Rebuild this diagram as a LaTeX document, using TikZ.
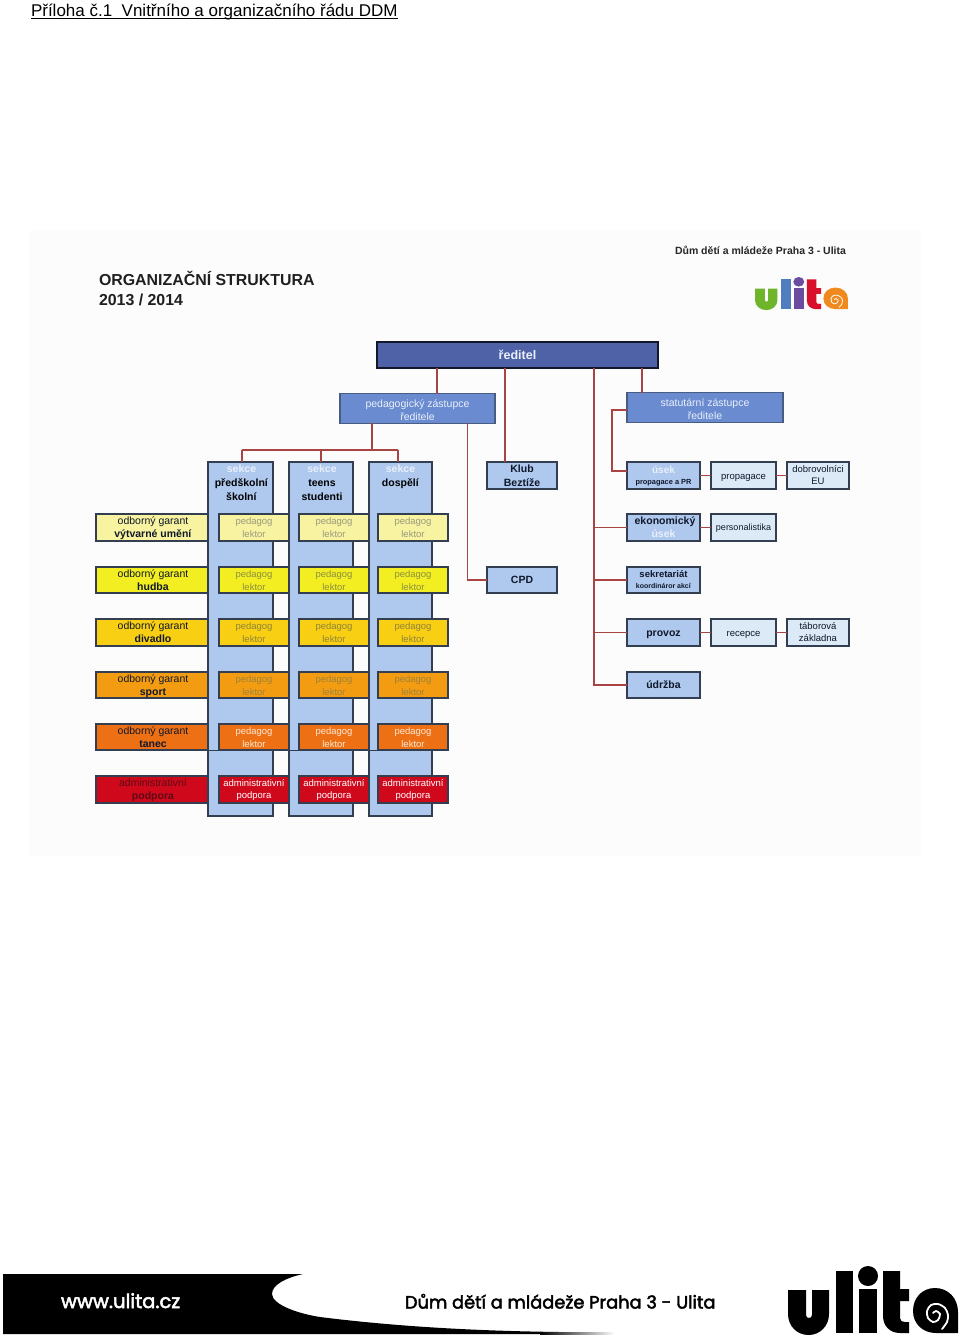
\documentclass[tikz,border=0pt]{standalone}
\usepackage{fontspec}
\setmainfont{Liberation Sans}
\newfontfamily\gothicfont[FakeBold=2.5]{Poppins}
\definecolor{bordr}{HTML}{333F50}
\definecolor{conn}{HTML}{A84444}
\definecolor{colfill}{HTML}{AEC8EE}
\definecolor{midfill}{HTML}{6A8BD0}
\definecolor{dirfill}{HTML}{4F62A8}
\definecolor{lightfill}{HTML}{DCEAF8}
\definecolor{softwhite}{HTML}{E9F0FA}
\definecolor{inkdark}{HTML}{10182A}
\definecolor{ra}{HTML}{F7F3A0}
\definecolor{rb}{HTML}{F2EE22}
\definecolor{rc}{HTML}{F9CF14}
\definecolor{rd}{HTML}{F39C12}
\definecolor{re}{HTML}{EE7014}
\definecolor{rf}{HTML}{D0081C}
\definecolor{ta}{HTML}{9A9A80}
\definecolor{tb}{HTML}{8E9040}
\definecolor{tc}{HTML}{8E8438}
\definecolor{td}{HTML}{A08238}
\definecolor{te}{HTML}{FBE8D6}
\definecolor{garf}{HTML}{5C0A14}
\definecolor{logoa}{HTML}{6FB52C}
\definecolor{logob}{HTML}{4F7DBE}
\definecolor{logoc}{HTML}{6A4CA0}
\definecolor{logod}{HTML}{D8102C}
\definecolor{logoe}{HTML}{F08A1E}
\tikzset{
  orgbox/.style={draw=bordr,line width=1.1pt,inner sep=0pt,outer sep=0pt,align=center,text=inkdark},
  basefont/.style={font=\fontsize{9.5}{13}\selectfont},
  boldfont/.style={font=\fontsize{10.5}{13}\selectfont},
  conline/.style={draw=conn,line width=1.1pt},
  plain/.style={inner sep=0pt,outer sep=0pt,align=center},
}
\renewcommand{\strut}{\rule[-.215\baselineskip]{0pt}{\baselineskip}}
\newcommand{\orgnode}[7]{%
  \node[orgbox,#6,minimum width={(#4-#2)*1pt},minimum height={(#5-#3)*1pt}] (#1) at ({(#2+#4)/2},{(#3+#5)/2}) {#7};}
\newcommand{\hb}[1]{\strut\textbf{#1}}
\newcommand{\ulitalogo}[7]{%
  \begin{scope}[#6]
    \fill[#1] (788,1290) -- (806,1290) -- (806,1315) .. controls (806,1319) and (812,1319) .. (812,1315) -- (812,1290) -- (829,1290) -- (829,1314) .. controls (829,1326) and (820,1335) .. (808.5,1335) .. controls (797,1335) and (788,1326) .. (788,1314) -- cycle;
    \fill[#2] (836,1271) rectangle (853,1333);
    \fill[#3] (859,1289) rectangle (877,1333);
    \fill[#3] (868,1276) circle[radius=10];
    \fill[#4] (883,1271) -- (900,1271) -- (900,1289) -- (909,1289) -- (909,1301) -- (900,1301) -- (900,1318) .. controls (900,1321) and (902,1322) .. (905,1322) -- (909,1322) -- (909,1333) -- (900,1333) .. controls (890,1333) and (883,1326) .. (883,1316) -- cycle;
    \fill[#5] (958,1333) -- (958,1312) .. controls (958,1298) and (948,1288) .. (935,1288) .. controls (922,1288) and (913,1298) .. (913,1311) .. controls (913,1324) and (923,1333) .. (936,1333) -- cycle;
    \draw[white,line width=#7,line cap=round] plot[smooth] coordinates {(942,1329) (947,1322) (948,1315) (945,1308) (938,1304) (931,1305) (927,1311) (928,1318) (933,1322) (938,1320) (940,1314) (936,1311) (933,1313)};
  \end{scope}}
\begin{document}
\begin{tikzpicture}[x=1pt,y=-1pt]
\useasboundingbox (0,0) rectangle (960,1336);
\fill[white] (0,0) rectangle (960,1336);
\fill[black!1] (30,230) rectangle (921,856);

% header
\node[plain,anchor=base west,font=\fontsize{17}{20}\selectfont] (head) at (31,16) {Příloha č.1\ \ Vnitřního a organizačního řádu DDM};
\draw[line width=1pt] ([yshift=-2.2pt]head.base west) -- ([yshift=-2.2pt]head.base east);

% titles
\node[plain,anchor=base west,font=\fontsize{15.9}{20}\selectfont\bfseries,text=black!88] (title) at (99,285.5) {ORGANIZAČNÍ STRUKTURA};
\node[plain,anchor=base west,font=\fontsize{15.9}{20}\selectfont\bfseries,text=black!88] (years) at (99,305.5) {2013 / 2014};
\node[plain,anchor=base west,font=\fontsize{10.5}{13}\selectfont\bfseries,text=black!85] (org) at (675,254) {Dům dětí a mládeže Praha 3 - Ulita};
\ulitalogo{logoa}{logob}{logoc}{logod}{logoe}{shift={(755,277)},xscale=.547,yscale=.48,shift={(-788,-1266)}}{.8pt}

% section columns
\orgnode{sec1}{208}{462}{273}{816}{fill=colfill}{}
\orgnode{sec2}{289}{462}{353}{816}{fill=colfill}{}
\orgnode{sec3}{369}{462}{432}{816}{fill=colfill}{}
\node[plain,anchor=north,boldfont] (sect1) at (241.5,462.5) {\textcolor{softwhite}{\hb{sekce}}\\[1pt]\hb{předškolní}\\[.5pt]\hb{školní}};
\node[plain,anchor=north,boldfont] (sect2) at (322,462.5) {\textcolor{softwhite}{\hb{sekce}}\\[1pt]\hb{teens}\\[.5pt]\hb{studenti}};
\node[plain,anchor=north,boldfont] (sect3) at (400.5,462.5) {\textcolor{softwhite}{\hb{sekce}}\\[1pt]\hb{dospělí}};

% rows
\foreach \r/\ya/\yb/\fc/\tcl/\word in {1/514/541/ra/ta/výtvarné umění,2/567/593/rb/tb/hudba,3/619/646/rc/tc/divadlo,4/672/698/rd/td/sport,5/724/750/re/te/tanec}{
  \orgnode{g\r}{96}{\ya}{208}{\yb}{fill=\fc,boldfont}{\hspace*{2pt}\strut odborný garant\\\hspace*{2pt}\hb{\word}}
  \orgnode{pa\r}{219}{\ya}{289}{\yb}{fill=\fc,basefont,text=\tcl}{\strut pedagog\\\strut lektor}
  \orgnode{pb\r}{299}{\ya}{369}{\yb}{fill=\fc,basefont,text=\tcl}{\strut pedagog\\\strut lektor}
  \orgnode{pc\r}{378}{\ya}{448}{\yb}{fill=\fc,basefont,text=\tcl}{\strut pedagog\\\strut lektor}
}
\orgnode{g6}{96}{776}{208}{803}{fill=rf,boldfont,text=garf}{\hspace*{2pt}\strut administrativní\\\hspace*{2pt}\hb{podpora}}
\orgnode{pa6}{219}{776}{289}{803}{fill=rf,font=\fontsize{9.5}{12}\selectfont,text=white}{\strut administrativní\\\strut podpora}
\orgnode{pb6}{299}{776}{369}{803}{fill=rf,font=\fontsize{9.5}{12}\selectfont,text=white}{\strut administrativní\\\strut podpora}
\orgnode{pc6}{378}{776}{448}{803}{fill=rf,font=\fontsize{9.5}{12}\selectfont,text=white}{\strut administrativní\\\strut podpora}
\draw[bordr,line width=.8pt] (g5.south east) -- (pa5.south west) (pa5.south east) -- (pb5.south west) (pb5.south east) -- (pc5.south west);

% top boxes
\orgnode{dir}{377}{342}{658}{368}{fill=dirfill,draw=inkdark,line width=2pt,font=\fontsize{12.5}{14}\selectfont\bfseries,text=softwhite}{ředitel}
\orgnode{ped}{340}{394}{495}{423}{fill=midfill,draw=bordr!60!midfill,font=\fontsize{10.5}{13}\selectfont,text=softwhite}{\rule{0pt}{14pt}pedagogický zástupce\\\strut ředitele}
\orgnode{stat}{627}{393}{783}{422}{fill=midfill,draw=bordr!60!midfill,font=\fontsize{10.5}{13}\selectfont,text=softwhite}{\rule{0pt}{14pt}statutární zástupce\\\strut ředitele}
\orgnode{klub}{487}{462}{557}{489}{fill=colfill,boldfont}{\hb{Klub}\\[1pt]\hb{Beztíže}}
\orgnode{cpd}{487}{567}{557}{593}{fill=colfill,boldfont}{\hb{CPD}}

% right side
\orgnode{us}{627}{462}{700}{489}{fill=colfill,font=\fontsize{10}{11.5}\selectfont}{\textcolor{softwhite}{\hb{úsek}}\\\fontsize{7.4}{11.5}\selectfont\hb{propagace a PR}}
\orgnode{prop}{711}{462}{776}{489}{fill=lightfill,basefont}{\strut propagace}
\orgnode{dobr}{787}{462}{849}{489}{fill=lightfill,font=\fontsize{9.5}{12}\selectfont}{\strut dobrovolníci\\\strut EU}
\orgnode{eko}{627}{514}{700}{541}{fill=colfill,boldfont}{\hspace*{3pt}\hb{ekonomický}\\\textcolor{softwhite}{\hb{úsek}}}
\orgnode{pers}{711}{514}{776}{541}{fill=lightfill,font=\fontsize{9}{12}\selectfont}{\strut personalistika}
\orgnode{sekr}{627}{567}{700}{593}{fill=colfill,font=\fontsize{9.5}{10.5}\selectfont}{\hb{sekretariát}\\\fontsize{7}{10.5}\selectfont\hb{koordináror akcí}}
\orgnode{prov}{627}{619}{700}{646}{fill=colfill,boldfont}{\hb{provoz}}
\orgnode{rec}{711}{619}{776}{646}{fill=lightfill,basefont}{\strut recepce}
\orgnode{tab}{787}{619}{849}{646}{fill=lightfill,font=\fontsize{9.5}{12}\selectfont}{\strut táborová\\\strut základna}
\orgnode{udrz}{627}{672}{700}{698}{fill=colfill,boldfont}{\hb{údržba}}

% connectors
\coordinate (xped) at (437,380);
\coordinate (bus) at (372,450);
\coordinate (busA) at (242,450);
\coordinate (busB) at (321,450);
\coordinate (busC) at (398,450);
\coordinate (xcpd) at (467.7,500);
\coordinate (xklub) at (505,400);
\coordinate (xtrunk) at (594,400);
\coordinate (xstat) at (642,380);
\coordinate (sl) at (612,410);
\coordinate (sb) at (612,471);
\begin{scope}[conline]
\draw (dir.south -| xped) -- (ped.north -| xped);
\draw (ped.south -| bus) -- (bus);
\draw (busA) -- (busC);
\draw (busA) -- (sec1.north -| busA);
\draw (busB) -- (sec2.north -| busB);
\draw (busC) -- (sec3.north -| busC);
\draw (ped.south -| xcpd) |- (cpd.west);
\draw (dir.south -| xklub) -- (klub.north -| xklub);
\draw (dir.south -| xstat) -- (stat.north -| xstat);
\draw (stat.west |- sl) -- (sl) -- (sb) -- (us.west |- sb);
\draw (dir.south -| xtrunk) |- (udrz.west);
\draw (eko.west -| xtrunk) -- (eko.west);
\draw (sekr.west -| xtrunk) -- (sekr.west);
\draw (prov.west -| xtrunk) -- (prov.west);
\draw (us.east) -- (prop.west);
\draw (prop.east) -- (dobr.west);
\draw (eko.east) -- (pers.west);
\draw (prov.east) -- (rec.west);
\draw (rec.east) -- (tab.west);
\end{scope}

% footer
\fill[black] (3,1274) -- (303,1274) .. controls (285,1278) and (272,1285) .. (272,1294) .. controls (272,1305) and (300,1314) .. (320,1317) .. controls (400,1327) and (480,1331) .. (560,1332) -- (560,1334) -- (3,1334) -- cycle;
\shade[left color=black,right color=white] (540,1332) rectangle (615,1334);
\node[plain,anchor=base west,font=\gothicfont\fontsize{19.5}{22}\selectfont,text=white] (www) at (61,1308) {www.ulita.cz};
\node[plain,anchor=base west,font=\gothicfont\fontsize{17.8}{22}\selectfont,text=black] (foot) at (405,1308.5) {Dům dětí a mládeže Praha 3 - Ulita};
\ulitalogo{black}{black}{black}{black}{black}{}{1.8pt}
\end{tikzpicture}
\end{document}
